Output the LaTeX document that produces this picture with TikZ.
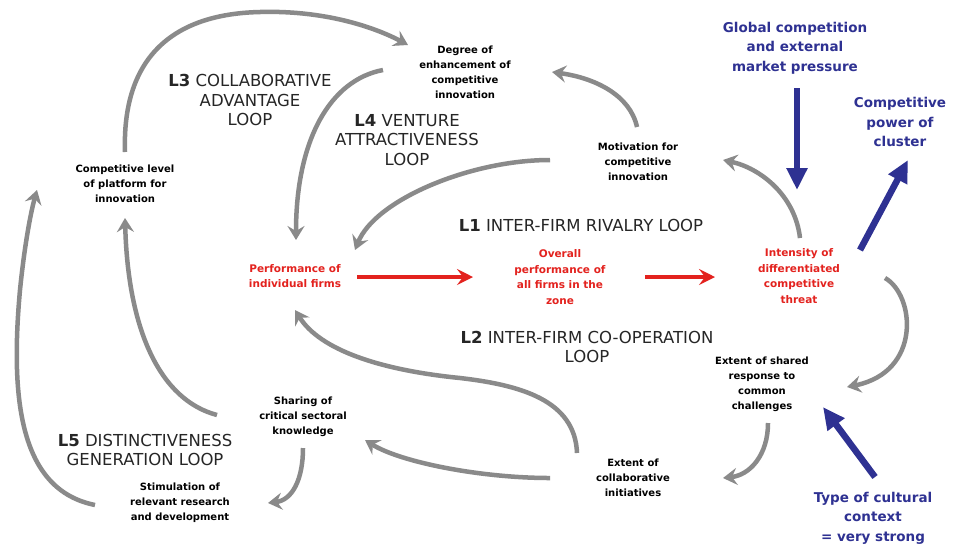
\documentclass[tikz,border=0pt]{standalone}
\usepackage{fontspec}
\setmainfont{DejaVu Sans}
\usetikzlibrary{arrows.meta,calc}
\definecolor{loopgray}{HTML}{8A8A8A}
\definecolor{rivalred}{HTML}{E3221E}
\definecolor{forceblue}{HTML}{2E3192}
\begin{document}
\begin{tikzpicture}[x=1pt,y=-1pt,
  factor/.style={align=center,font=\bfseries\fontsize{10}{15}\selectfont,inner sep=1pt},
  keyfactor/.style={factor,text=rivalred,font=\bfseries\fontsize{10.5}{15.5}\selectfont},
  force/.style={align=center,text=forceblue,font=\bfseries\fontsize{13.5}{19.5}\selectfont,inner sep=1pt},
  looplabel/.style={align=center,text=black!85,font=\fontsize{16.5}{19.5}\selectfont,inner sep=1pt},
  link/.style={draw=loopgray,line width=4.5pt,-{Stealth[length=14pt,width=17pt,inset=5pt]}},
  rival/.style={draw=rivalred,line width=4.5pt,-{Stealth[length=16pt,width=16pt,inset=6pt]}},
  push/.style={draw=forceblue,line width=6.5pt,-{Triangle[length=22pt,width=20pt]}}]
\useasboundingbox[fill=white] (0,0) rectangle (955,550);

% factors of the cluster
\node[factor] (deg)  at (465,72)  {Degree of\\enhancement of\\competitive\\innovation};
\node[factor] (mot)  at (638,162) {Motivation for\\competitive\\innovation};
\node[factor] (cpl)  at (125,184) {Competitive level\\of platform for\\innovation};
\node[keyfactor] (perf) at (295,276) {Performance of\\individual firms};
\node[keyfactor] (over) at (560,277) {Overall\\performance of\\all firms in the\\zone};
\node[keyfactor] (inten) at (799,276) {Intensity of\\differentiated\\competitive\\threat};
\node[factor] (shr)  at (762,384) {Extent of shared\\response to\\common\\challenges};
\node[factor] (col)  at (633,478) {Extent of\\collaborative\\initiatives};
\node[factor] (shar) at (303,417) {Sharing of\\critical sectoral\\knowledge};
\node[factor] (stim) at (180,503) {Stimulation of\\relevant research\\and development};

% external forces
\node[force] (glob) at (795,48)  {Global competition\\and external\\market pressure};
\node[force] (pow)  at (900,122) {Competitive\\power of\\cluster};
\node[force] (cult) at (873,518) {Type of cultural\\context\\= very strong};

% loop names
\node[looplabel] (l1) at (581,225) {\textbf{L1} INTER-FIRM RIVALRY LOOP};
\node[looplabel] (l2) at (587,347) {\textbf{L2} INTER-FIRM CO-OPERATION\\LOOP};
\node[looplabel] (l3) at (250,100) {\textbf{L3} COLLABORATIVE\\ADVANTAGE\\LOOP};
\node[looplabel] (l4) at (407,140) {\textbf{L4} VENTURE\\ATTRACTIVENESS\\LOOP};
\node[looplabel] (l5) at (145,450) {\textbf{L5} DISTINCTIVENESS\\GENERATION LOOP};

% L1: rivalry chain
\draw[rival] ($(perf)+(62,1)$) -- ($(over)+(-87,0)$);
\draw[rival] ($(over)+(85,0)$) -- ($(inten)+(-84,1)$);

% L4: venture attractiveness
\draw[link] ($(inten)+(1,-38)$) .. controls (795,195) and (760,168) .. ($(mot)+(85,-2)$);
\draw[link] ($(mot)+(-88,-2)$) .. controls (470,160) and (375,200) .. ($(perf)+(60,-26)$);
\draw[link] ($(mot)+(-1,-35)$) .. controls (630,95) and (595,78) .. ($(deg)+(87,0)$);
\draw[link] ($(deg)+(-82,-2)$) .. controls (330,80) and (296,140) .. ($(perf)+(1,-36)$);

% L3: collaborative advantage
\draw[link] ($(cpl)+(0,-32)$) .. controls (122,60) and (170,14) .. (260,12)
  .. controls (330,10) and (380,30) .. ($(deg)+(-57,-27)$);

% L2: co-operation
\draw[link] ($(inten)+(86,2)$) .. controls (915,295) and (922,372) .. ($(shr)+(85,3)$);
\draw[link] ($(shr)+(6,39)$) .. controls (768,455) and (750,475) .. ($(col)+(90,0)$);
\draw[link] ($(col)+(-56,-25)$) .. controls (575,400) and (520,385) .. (460,378)
  .. controls (380,370) and (320,350) .. ($(perf)+(0,34)$);
\draw[link] ($(col)+(-83,0)$) .. controls (480,478) and (400,462) .. ($(shar)+(62,23)$);

% L5: distinctiveness generation
\draw[link] ($(shar)+(0,31)$) .. controls (303,480) and (292,500) .. ($(stim)+(88,0)$);
\draw[link] ($(stim)+(-85,2)$) .. controls (20,490) and (10,400) .. (20,290)
  .. controls (24,250) and (30,215) .. ($(cpl)+(-88,6)$);
\draw[link] ($(shar)+(-86,-2)$) .. controls (160,400) and (128,330) .. ($(cpl)+(0,34)$);

% external pressures
\draw[push] ($(glob)+(2,40)$) -- ($(inten)+(-2,-86)$);
\draw[push] ($(inten)+(61,-26)$) -- ($(pow)+(8,38)$);
\draw[push] ($(cult)+(2,-41)$) -- ($(shr)+(61,23)$);
\end{tikzpicture}
\end{document}
